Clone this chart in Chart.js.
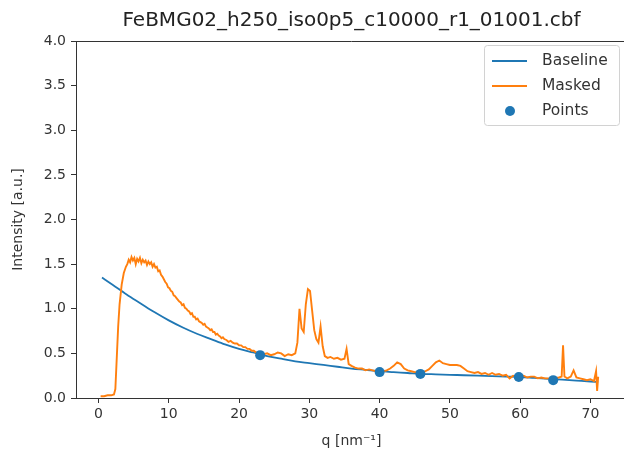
<!DOCTYPE html>
<html>
<head>
<meta charset="utf-8">
<script src="https://cdn.jsdelivr.net/npm/chart.js@4/dist/chart.umd.min.js"></script>
<style>
  html, body { margin: 0; padding: 0; background: #fff; overflow: hidden; }
  #wrap { width: 632px; height: 457px; }
</style>
</head>
<body>
<div id="wrap"><canvas id="c" width="632" height="457"></canvas></div>
<script>
// Azimuthally integrated intensity profile with its fitted background.
const chartTitle = 'FeBMG02_h250_iso0p5_c10000_r1_01001.cbf';

// Baseline (fitted background curve)
const baselineQ = [0.5, 2, 4, 6, 8, 10, 12, 14, 16, 18, 20, 22, 24, 26, 28, 30, 32, 34, 36, 38, 40,
  42, 44, 46, 48, 50, 52, 54, 56, 58, 60, 62, 64, 66, 68, 70, 71.1];
const baselineI = [1.35, 1.27, 1.16, 1.06, 0.96, 0.87, 0.79, 0.72, 0.66, 0.60, 0.55, 0.51, 0.47, 0.44, 0.41, 0.39, 0.37, 0.35, 0.33, 0.315, 0.30,
  0.29, 0.28, 0.27, 0.265, 0.26, 0.255, 0.25, 0.245, 0.24, 0.235, 0.225, 0.215, 0.205, 0.195, 0.185, 0.18];

// Masked intensity profile
const maskedQ = [0.3, 0.8, 1.3, 1.8, 2.2, 2.4, 2.6, 2.8, 3.0, 3.3, 3.6, 3.9, 4.1, 4.3, 4.5, 4.7, 4.9, 5.1, 5.3, 5.5,
  5.7, 5.9, 6.1, 6.3, 6.5, 6.7, 6.9, 7.1, 7.3, 7.5, 7.7, 7.9, 8.1, 8.3, 8.5, 8.7, 8.9, 9.1, 9.3, 9.5,
  9.7, 9.9, 10.1, 10.3, 10.5, 10.7, 10.9, 11.1, 11.3, 11.5, 11.7, 11.9, 12.1, 12.3, 12.5, 12.7, 12.9, 13.1, 13.3, 13.5,
  13.7, 13.9, 14.1, 14.3, 14.5, 14.7, 14.9, 15.1, 15.3, 15.5, 15.7, 15.9, 16.1, 16.3, 16.5, 16.7, 16.9, 17.1, 17.3, 17.5,
  17.7, 17.9, 18.2, 18.5, 18.8, 19.1, 19.4, 19.7, 20.0, 20.3, 20.6, 20.9, 21.2, 21.5, 21.8, 22.1, 22.4, 22.7, 23.0, 23.5,
  24.0, 24.5, 25.0, 25.5, 26.0, 26.5, 27.0, 27.5, 28.0, 28.3, 28.6, 28.9, 29.2, 29.5, 29.8, 30.1, 30.4, 30.7, 31.0, 31.3,
  31.6, 31.9, 32.2, 32.6, 33.0, 33.5, 34.0, 34.5, 35.0, 35.3, 35.6, 36.0, 36.5, 37.0, 37.5, 38.0, 38.5, 39.0, 39.5, 40.0,
  40.5, 41.0, 41.5, 42.0, 42.5, 43.0, 43.5, 44.0, 44.5, 45.0, 45.5, 46.0, 46.5, 47.0, 47.5, 48.0, 48.5, 49.0, 49.5, 50.0,
  50.5, 51.0, 51.5, 52.0, 52.5, 53.0, 53.5, 54.0, 54.5, 55.0, 55.5, 56.0, 56.5, 57.0, 57.5, 58.0, 58.5, 59.0, 59.5, 60.0,
  60.5, 61.0, 61.5, 62.0, 62.5, 63.0, 63.5, 64.0, 64.5, 65.0, 65.5, 65.9, 66.1, 66.3, 66.7, 67.2, 67.6, 68.0, 68.5, 69.0,
  69.5, 70.0, 70.5, 70.8, 70.95, 71.1];
const maskedI = [0.02, 0.02, 0.03, 0.03, 0.04, 0.10, 0.45, 0.80, 1.05, 1.27, 1.40, 1.47, 1.50, 1.55, 1.52, 1.58, 1.54, 1.57, 1.50, 1.56,
  1.53, 1.57, 1.51, 1.55, 1.52, 1.54, 1.49, 1.53, 1.50, 1.52, 1.47, 1.50, 1.46, 1.47, 1.42, 1.43, 1.38, 1.36, 1.33, 1.30,
  1.28, 1.24, 1.23, 1.20, 1.19, 1.15, 1.14, 1.12, 1.10, 1.08, 1.07, 1.04, 1.05, 1.01, 1.00, 0.98, 0.97, 0.94, 0.95, 0.91,
  0.91, 0.88, 0.89, 0.86, 0.85, 0.84, 0.82, 0.83, 0.80, 0.79, 0.78, 0.76, 0.77, 0.74, 0.74, 0.71, 0.72, 0.70, 0.69, 0.67,
  0.68, 0.66, 0.65, 0.63, 0.64, 0.62, 0.61, 0.61, 0.59, 0.59, 0.57, 0.57, 0.55, 0.55, 0.53, 0.53, 0.51, 0.51, 0.50, 0.49,
  0.50, 0.48, 0.49, 0.51, 0.50, 0.47, 0.49, 0.48, 0.50, 0.62, 1.00, 0.78, 0.74, 1.05, 1.22, 1.20, 0.98, 0.76, 0.66, 0.62,
  0.80, 0.58, 0.47, 0.45, 0.46, 0.44, 0.45, 0.43, 0.44, 0.55, 0.38, 0.36, 0.34, 0.33, 0.33, 0.31, 0.32, 0.31, 0.30, 0.30,
  0.30, 0.31, 0.33, 0.36, 0.40, 0.38, 0.33, 0.31, 0.30, 0.29, 0.29, 0.28, 0.30, 0.32, 0.36, 0.40, 0.42, 0.39, 0.38, 0.37,
  0.37, 0.37, 0.36, 0.33, 0.30, 0.29, 0.28, 0.29, 0.27, 0.28, 0.26, 0.28, 0.26, 0.27, 0.25, 0.26, 0.22, 0.25, 0.24, 0.24,
  0.25, 0.23, 0.24, 0.24, 0.22, 0.23, 0.22, 0.22, 0.21, 0.22, 0.23, 0.24, 0.59, 0.24, 0.22, 0.24, 0.31, 0.23, 0.22, 0.21,
  0.20, 0.21, 0.19, 0.30, 0.08, 0.24];

// Anchor points used for the background fit
const pointsQ = [23.0, 40.0, 45.8, 59.8, 64.7];
const pointsI = [0.48, 0.29, 0.27, 0.235, 0.20];

// Axis ticks
const xTicks = [0, 10, 20, 30, 40, 50, 60, 70];
const yTicks = [0.0, 0.5, 1.0, 1.5, 2.0, 2.5, 3.0, 3.5, 4.0];

const legendItems = [
  { label: 'Baseline', kind: 'line', color: '#1f77b4' },
  { label: 'Masked', kind: 'line', color: '#ff7f0e' },
  { label: 'Points', kind: 'dot', color: '#1f77b4' }
];

const pairs = (xs, ys) => xs.map((x, i) => ({ x: x, y: ys[i] }));
const FONT = "'DejaVu Sans', sans-serif";
const INK = '#333333';

// Title, top frame edge and boxed legend
const decorations = {
  id: 'decorations',
  afterDraw(chart) {
    const { ctx, chartArea: a } = chart;
    ctx.save();
    // top spine
    ctx.strokeStyle = INK;
    ctx.lineWidth = 1;
    ctx.beginPath();
    ctx.moveTo(a.left, a.top + 0.5);
    ctx.lineTo(a.right, a.top + 0.5);
    ctx.stroke();

    // title
    ctx.fillStyle = '#222';
    ctx.font = '20px ' + FONT;
    ctx.textAlign = 'center';
    ctx.textBaseline = 'middle';
    ctx.fillText(chartTitle, (a.left + a.right) / 2, 21);

    // legend
    const bx = 484, by = 45, bw = 135, bh = 80;
    ctx.fillStyle = 'rgba(255,255,255,0.8)';
    ctx.strokeStyle = '#d2d2d2';
    ctx.beginPath();
    ctx.roundRect(bx + 0.5, by + 0.5, bw, bh, 3);
    ctx.fill();
    ctx.stroke();
    ctx.font = '15.5px ' + FONT;
    ctx.textAlign = 'left';
    legendItems.forEach((it, i) => {
      const y = by + 16 + i * 25;
      if (it.kind === 'line') {
        ctx.strokeStyle = it.color;
        ctx.lineWidth = 2;
        ctx.beginPath();
        ctx.moveTo(492, y);
        ctx.lineTo(527, y);
        ctx.stroke();
      } else {
        ctx.fillStyle = it.color;
        ctx.beginPath();
        ctx.arc(510, y, 5, 0, Math.PI * 2);
        ctx.fill();
      }
      ctx.fillStyle = INK;
      ctx.fillText(it.label, 542, y);
    });
    ctx.restore();
  }
};

new Chart(document.getElementById('c'), {
  type: 'scatter',
  data: {
    datasets: [
      {
        label: 'Baseline',
        data: pairs(baselineQ, baselineI),
        showLine: true,
        borderColor: '#1f77b4',
        borderWidth: 1.8,
        pointRadius: 0,
        cubicInterpolationMode: 'monotone',
        order: 3
      },
      {
        label: 'Masked',
        data: pairs(maskedQ, maskedI),
        showLine: true,
        borderColor: '#ff7f0e',
        borderWidth: 1.9,
        pointRadius: 0,
        tension: 0,
        order: 2
      },
      {
        label: 'Points',
        data: pairs(pointsQ, pointsI),
        showLine: false,
        backgroundColor: '#1f77b4',
        borderColor: '#1f77b4',
        borderWidth: 0,
        pointRadius: 5,
        order: 1
      }
    ]
  },
  options: {
    responsive: false,
    animation: false,
    devicePixelRatio: 1,
    layout: { padding: { top: 41, right: 1, left: 0, bottom: 0 } },
    plugins: { legend: { display: false }, tooltip: { enabled: false }, title: { display: false } },
    scales: {
      x: {
        type: 'linear',
        min: -3.2,
        max: 75.2,
        afterBuildTicks: (s) => { s.ticks = xTicks.map(v => ({ value: v })); },
        afterFit: (s) => { s.height = 59; },
        ticks: { color: INK, font: { family: FONT, size: 14 }, padding: 3, maxRotation: 0, autoSkip: false,
                 callback: (v) => String(v) },
        grid: { drawOnChartArea: false, drawTicks: true, tickLength: 5, color: INK },
        border: { display: true, color: INK, width: 1 },
        title: { display: true, text: 'q [nm\u207B\u00B9]', color: INK, font: { family: FONT, size: 14 },
                 padding: { top: 0, bottom: 7 } }
      },
      y: {
        type: 'linear',
        min: 0,
        max: 4,
        afterBuildTicks: (s) => { s.ticks = yTicks.map(v => ({ value: v })); },
        afterFit: (s) => { s.width = 76; },
        ticks: { color: INK, font: { family: FONT, size: 14 }, padding: 5, autoSkip: false,
                 callback: (v) => Number(v).toFixed(1) },
        grid: { drawOnChartArea: false, drawTicks: true, tickLength: 5, color: INK },
        border: { display: true, color: INK, width: 1 },
        title: { display: true, text: 'Intensity [a.u.]', color: INK, font: { family: FONT, size: 14 },
                 padding: { top: 10, bottom: 0 } }
      }
    }
  },
  plugins: [decorations]
});
</script>
</body>
</html>
